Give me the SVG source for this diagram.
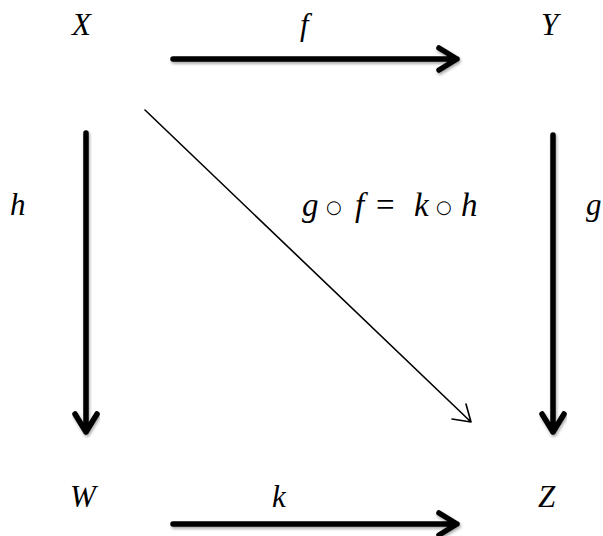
<svg xmlns="http://www.w3.org/2000/svg" width="603" height="536" viewBox="0 0 603 536">
<style>
.thick{stroke:#000;stroke-width:5.5;fill:none;stroke-linecap:round;stroke-linejoin:round;filter:url(#sh)}
.thin{stroke:#000;stroke-width:1.6;fill:none;stroke-linecap:round;stroke-linejoin:round}
.op{font-style:normal;font-family:"DejaVu Sans",sans-serif}
</style>
<defs>
<filter id="sh" x="-10%" y="-50%" width="120%" height="200%">
<feDropShadow dx="1" dy="2" stdDeviation="1.5" flood-color="#000" flood-opacity="0.35"/>
</filter>
</defs>
<rect width="603" height="536" fill="#fff"/>
<g font-family="Liberation Serif, serif" font-style="italic" font-size="31" fill="#000">
<g id="X"><text x="72" y="35">X</text></g>
<g id="Y"><text x="541" y="35">Y</text></g>
<g id="W"><text x="70" y="507">W</text></g>
<g id="Z"><text x="538" y="507">Z</text></g>
<g id="connectors">
<g id="f"><path class="thick" d="M173,59 H457 M439,48 L457,59 L439,70"/><text x="300" y="35">f</text></g>
<g id="h"><path class="thick" d="M86,133 V432 M75,414 L86,432 L97,414"/><text x="10" y="215">h</text></g>
<g id="g"><path class="thick" d="M553,135 V432 M542,414 L553,432 L564,414"/><text x="586" y="215">g</text></g>
<g id="k"><path class="thick" d="M173,524 H457 M439,513 L457,524 L439,535"/><text x="272" y="507">k</text></g>
<g id="diag"><path class="thin" d="M145,110 L471,422 M452,419 L471,422 L466,404"/>
<text y="216" font-size="33"><tspan x="302">g</tspan><tspan class="op" x="326" font-size="18" dy="-3">○</tspan><tspan x="355" dy="3">f</tspan><tspan font-style="normal" x="376">=</tspan><tspan x="414">k</tspan><tspan class="op" x="436" font-size="18" dy="-3">○</tspan><tspan x="461" dy="3">h</tspan></text></g>
</g>
</g>
</svg>
